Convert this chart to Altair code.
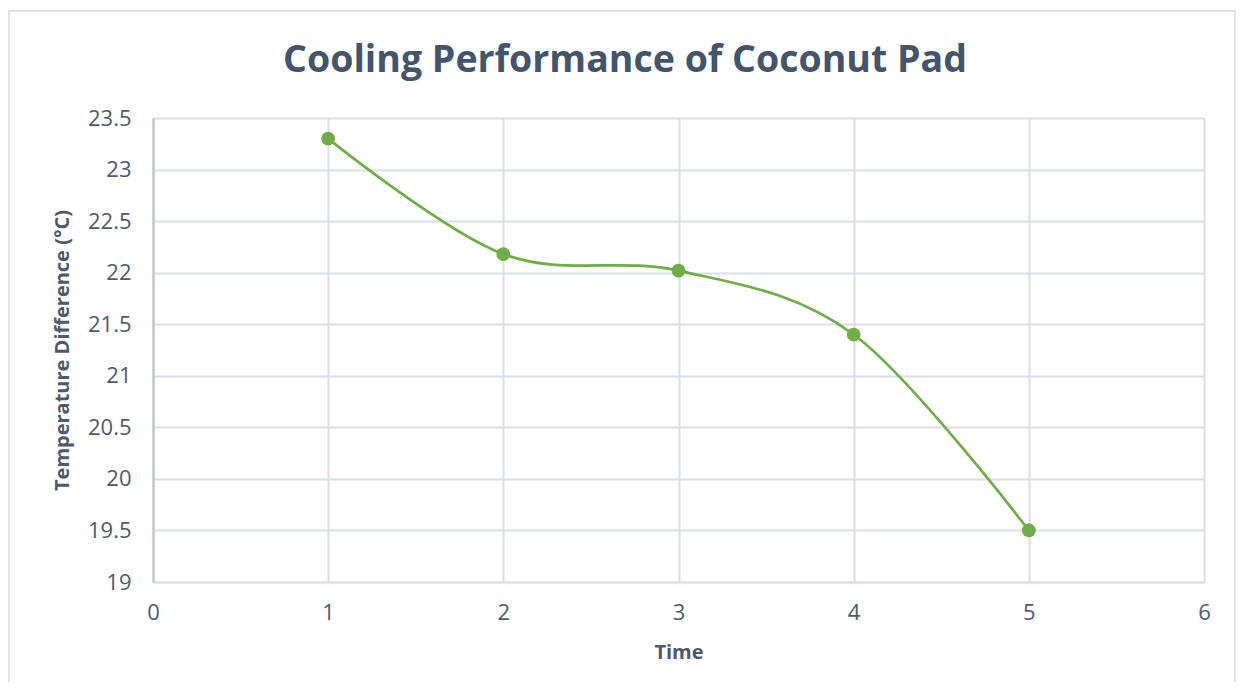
import altair as alt
import pandas as pd

time = [1, 2, 3, 4, 5]
temp_diff = [23.3, 22.18, 22.02, 21.4, 19.5]
x_ticks = [0, 1, 2, 3, 4, 5, 6]
y_ticks = [19, 19.5, 20, 20.5, 21, 21.5, 22, 22.5, 23, 23.5]
title_text = ["Cooling Performance of Coconut Pad"]

df = pd.DataFrame({"Time": time, "Temp": temp_diff})

W, H = 1051, 464
PL, PT, PR, PB = 145, 110, 32, 100

GREEN = "#70AD47"
TXT = "#4E5A6C"
GRID = "#D9DEE7"
FONT = "Open Sans"

xenc = alt.X("Time:Q", scale=alt.Scale(domain=[0, 6], nice=False, zero=False),
             axis=alt.Axis(values=x_ticks, title="Time", grid=True, gridColor=GRID, gridWidth=2,
                           domain=True, domainColor=GRID, domainWidth=2, ticks=False,
                           labelFontSize=22, labelColor=TXT, labelFont=FONT, labelPadding=20,
                           labelFlush=False,
                           titleFontSize=20, titleFont=FONT, titleColor=TXT, titleFontWeight="bold",
                           titlePadding=19, format="d"))
yenc = alt.Y("Temp:Q", scale=alt.Scale(domain=[19, 23.5], nice=False, zero=False),
             axis=alt.Axis(values=y_ticks, title="Temperature Difference (°C)", grid=True, gridColor=GRID,
                           gridWidth=2, domain=True, domainColor="#B8C0CE", domainWidth=2, ticks=False,
                           labelFontSize=22, labelColor=TXT, labelFont=FONT, labelPadding=22,
                           labelFlush=False, format=".1~f",
                           titleFontSize=20, titleFont=FONT, titleColor=TXT, titleFontWeight="bold",
                           titlePadding=15))

line = alt.Chart(df).mark_line(color=GREEN, strokeWidth=2.7, interpolate="cardinal").encode(x=xenc, y=yenc)
pts = alt.Chart(df).mark_point(filled=True, color=GREEN, size=190, opacity=1).encode(x="Time:Q", y="Temp:Q")

border = alt.Chart(pd.DataFrame({"a": [0]})).mark_rect(fill=None, stroke="#D9D9D9", strokeWidth=1.5).encode(
    x=alt.value(-PL + 1), x2=alt.value(W + PR - 1), y=alt.value(-PT + 3), y2=alt.value(H + PB + 20)
)

title = alt.Chart(pd.DataFrame({"t": title_text})).mark_text(
    font=FONT, fontSize=37.5, fontWeight="bold", color="#44546A", align="center", baseline="middle"
).encode(text="t:N", x=alt.value(472), y=alt.value(-57))

chart = alt.layer(border, line, pts, title).properties(
    width=W, height=H,
    autosize=alt.AutoSizeParams(type="none"),
    padding={"left": PL, "top": PT, "right": PR, "bottom": PB},
).configure_view(stroke=None).configure(background="white")

chart.save("out.html", embed_options={"renderer": "svg", "actions": False})
